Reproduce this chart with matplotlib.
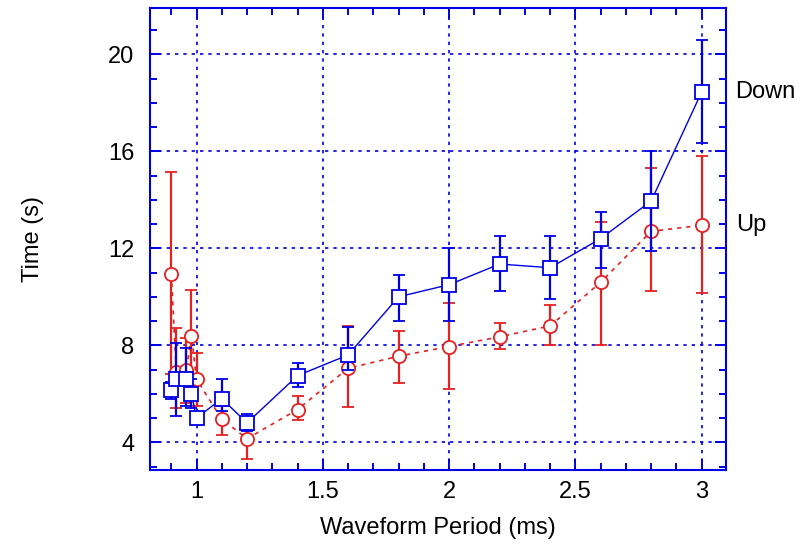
import numpy as np
import matplotlib
matplotlib.use('Agg')
import matplotlib.pyplot as plt
from matplotlib.ticker import MultipleLocator

plt.rcParams['font.family'] = ['Liberation Sans', 'DejaVu Sans']

# Down series (blue squares)
period_down = [0.9, 0.92, 0.96, 0.98, 1.0, 1.1, 1.2, 1.4, 1.6, 1.8, 2.0, 2.2, 2.4, 2.6, 2.8, 3.0]
time_down = [6.15, 6.6, 6.6, 6.0, 5.0, 5.8, 4.8, 6.75, 7.6, 10.0, 10.5, 11.35, 11.2, 12.4, 13.95, 18.45]
down_lo = [5.8, 5.1, 5.5, 5.4, 4.85, 5.3, 4.45, 6.3, 7.0, 9.0, 9.0, 10.25, 9.9, 11.2, 11.9, 16.35]
down_hi = [6.5, 8.1, 7.9, 6.6, 5.15, 6.6, 5.15, 7.25, 8.75, 10.9, 12.0, 12.5, 12.5, 13.5, 16.0, 20.6]

# Up series (red circles)
period_up = [0.9, 0.92, 0.96, 0.98, 1.0, 1.1, 1.2, 1.4, 1.6, 1.8, 2.0, 2.2, 2.4, 2.6, 2.8, 3.0]
time_up = [10.95, 6.9, 7.0, 8.4, 6.6, 4.95, 4.15, 5.35, 7.05, 7.55, 7.95, 8.35, 8.8, 10.6, 12.7, 12.95]
up_lo = [6.8, 5.4, 5.6, 6.4, 5.5, 4.3, 3.3, 4.9, 5.45, 6.45, 6.2, 7.85, 8.0, 8.0, 10.25, 10.15]
up_hi = [15.15, 8.7, 8.3, 10.3, 7.7, 5.5, 4.55, 5.9, 8.8, 8.6, 9.75, 8.9, 9.65, 13.1, 15.3, 15.8]

blue = '#0000e6'
red = '#e62020'
fs = 17

fig = plt.figure(figsize=(8.01, 5.48), dpi=100)
ax = fig.add_axes([0.187, 0.142, 0.719, 0.843])

t_d = np.array(time_down)
t_u = np.array(time_up)
err_d = [t_d - np.array(down_lo), np.array(down_hi) - t_d]
err_u = [t_u - np.array(up_lo), np.array(up_hi) - t_u]

ax.errorbar(period_up, time_up, yerr=err_u, color=red, ls=(0, (2.5, 3)), lw=1.2,
            marker='o', ms=9.5, mfc='white', mec=red, mew=1.3,
            ecolor=red, elinewidth=1.6, capsize=4, capthick=1.6, zorder=3)
ax.errorbar(period_down, time_down, yerr=err_d, color=blue, ls='-', lw=1.0,
            marker='s', ms=9.5, mfc='white', mec=blue, mew=1.3,
            ecolor=blue, elinewidth=1.6, capsize=4, capthick=1.6, zorder=4)

ax.annotate('Down', (period_down[-1], time_down[-1]), xytext=(24, 0),
            textcoords='offset points', va='center', fontsize=fs, annotation_clip=False)
ax.annotate('Up', (period_up[-1], time_up[-1]), xytext=(25, 0),
            textcoords='offset points', va='center', fontsize=fs, annotation_clip=False)

ax.set_xlim(0.815, 3.095)
ax.set_ylim(2.85, 21.9)
ax.xaxis.set_minor_locator(MultipleLocator(0.1))
ax.yaxis.set_minor_locator(MultipleLocator(1))
ax.set_xticks([1, 1.5, 2, 2.5, 3])
ax.set_xticklabels(['1', '1.5', '2', '2.5', '3'])
ax.set_yticks([4, 8, 12, 16, 20])

ax.grid(True, which='major', color=blue, ls=(0, (2, 3)), lw=1.2)
ax.tick_params(which='both', direction='in', top=True, right=True, color=blue,
               labelsize=fs)
ax.tick_params(axis='x', pad=8)
ax.tick_params(axis='y', pad=11)
ax.tick_params(which='major', length=8, width=1.4)
ax.tick_params(which='minor', length=5, width=1.4)
for s in ax.spines.values():
    s.set_color(blue)
    s.set_linewidth(1.5)

ax.set_xlabel('Waveform Period (ms)', fontsize=fs, labelpad=10)
ax.set_ylabel('Time (s)', fontsize=fs, labelpad=46)

fig.savefig('out.png', dpi=100)
